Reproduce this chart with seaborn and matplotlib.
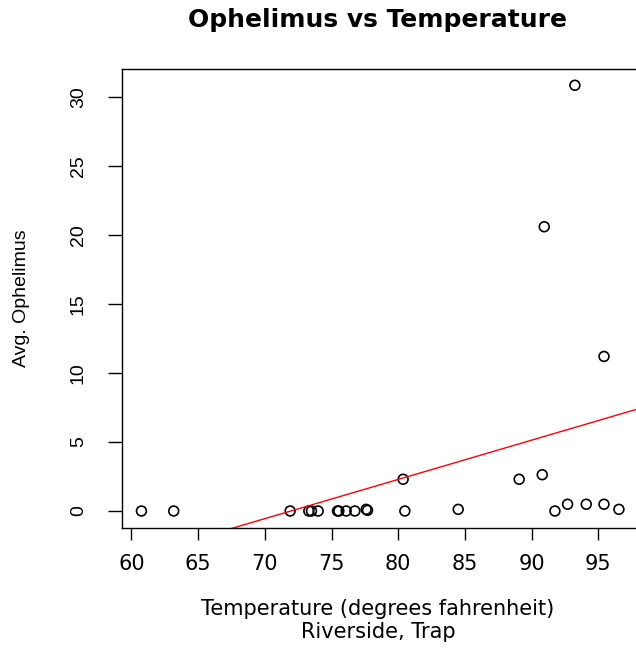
import matplotlib
matplotlib.use("Agg")
import matplotlib.pyplot as plt
import seaborn as sns
import pandas as pd

temperature = [60.75, 63.17, 71.9, 73.3, 73.5, 74.0, 75.45, 75.55, 76.1, 76.75,
               77.6, 77.7, 80.37, 80.5, 84.5, 89.07, 90.8, 90.95, 91.75, 92.7,
               93.25, 94.1, 95.43, 95.43, 96.55]
ophelimus = [0, 0, 0, 0, 0, 0, 0, 0, 0, 0,
             0.12, 0.05, 2.3, 0, 0.12, 2.3, 2.63, 20.6, 0, 0.49,
             30.85, 0.49, 0.49, 11.2, 0.12]
x_ticks = [60, 65, 70, 75, 80, 85, 90, 95]
y_ticks = [0, 5, 10, 15, 20, 25, 30]

df = pd.DataFrame({"Temperature": temperature, "Ophelimus": ophelimus})

sns.set_style("ticks")
plt.rcParams["font.family"] = ["DejaVu Sans"]
plt.rcParams["text.color"] = "black"
plt.rcParams["axes.labelcolor"] = "black"

W, H = 636, 652
top_px, bot_px, left_px, right_px = 69, 527.7, 121.7, 640
fig = plt.figure(figsize=(W / 100, H / 100), dpi=100)
ax = fig.add_axes([left_px / W, (H - bot_px) / H, (right_px - left_px) / W,
                   (bot_px - top_px) / H])

xlim = (59.27, 98.13)
ylim = (-1.21, 32.03)
ax.set_xlim(*xlim)
ax.set_ylim(*ylim)

sns.scatterplot(data=df, x="Temperature", y="Ophelimus", ax=ax, marker="o",
                s=50, facecolors="none", edgecolor="black", linewidth=1.2,
                legend=False)
sns.regplot(data=df, x="Temperature", y="Ophelimus", ax=ax, scatter=False,
            ci=None, truncate=False, color="red", line_kws={"linewidth": 1.0})

ax.set_xlim(*xlim)
ax.set_ylim(*ylim)
ax.set_xticks(x_ticks)
ax.set_yticks(y_ticks)
ax.set_xticklabels([str(t) for t in x_ticks], fontsize=15,
                   family=["DejaVu Sans"])
ax.set_yticklabels([str(t) for t in y_ticks], rotation=90, va="center",
                   fontsize=14, family=["Liberation Sans", "DejaVu Sans"])
ax.tick_params(axis="both", direction="out", width=1.0, color="black",
               labelcolor="black")
ax.tick_params(axis="x", length=8.6, pad=10.5)
ax.tick_params(axis="y", length=10, pad=15)
for sp in ax.spines.values():
    sp.set_visible(True)
    sp.set_color("black")
    sp.set_linewidth(1.0)

ax.set_xlabel("Temperature (degrees fahrenheit)\nRiverside, Trap", fontsize=15,
              linespacing=1.15, va="center", color="black")
ax.xaxis.set_label_coords((378 - left_px) / (right_px - left_px),
                          (bot_px - 620.5) / (bot_px - top_px))
ax.set_ylabel("Avg. Ophelimus", fontsize=14, va="center", color="black",
              family=["Liberation Sans", "DejaVu Sans"])
ax.yaxis.set_label_coords((22 - left_px) / (right_px - left_px), 0.5)

fig.text(378 / W, 1 - 20 / H, "Ophelimus vs Temperature", ha="center",
         va="center", fontsize=18, fontweight="bold", color="black")

fig.savefig("out.png", dpi=100, facecolor="white")
